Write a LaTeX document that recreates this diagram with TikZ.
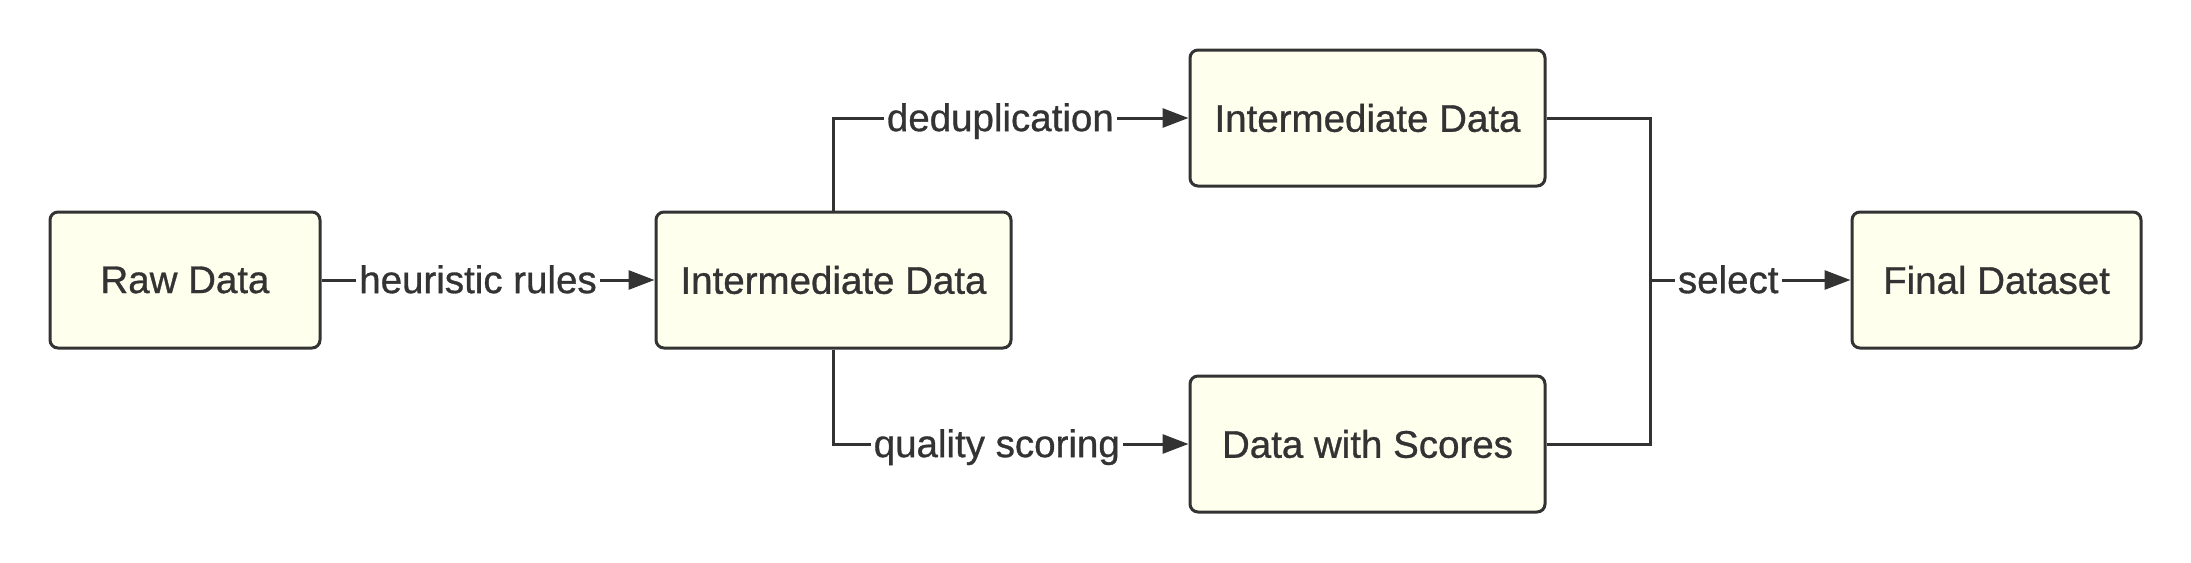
\documentclass[tikz,border=0pt]{standalone}
\usepackage{fontspec}
\setmainfont{Liberation Sans}
\newfontfamily\diagfont{Liberation Sans}[FakeBold=0.8]
\usetikzlibrary{arrows.meta}
\definecolor{boxfill}{HTML}{FFFFEE}
\definecolor{ink}{HTML}{333333}
\tikzset{
  databox/.style={draw=ink, fill=boxfill, line width=3pt, rounded corners=8pt,
    minimum height=136pt, inner sep=0pt, text=ink, font=\diagfont\fontsize{38.5}{46}\selectfont},
  flow/.style={draw=ink, line width=3pt, -{Triangle[length=26pt,width=19pt]}},
  link/.style={draw=ink, line width=3pt},
  lbl/.style={fill=white, inner xsep=3pt, inner ysep=2pt, text height=27.7pt, text depth=8.5pt,
    yshift=-3.5pt, text=ink, font=\diagfont\fontsize{38.5}{46}\selectfont}
}
\begin{document}
\begin{tikzpicture}[x=1pt,y=-1pt]
\useasboundingbox (0,0) rectangle (2191,562);
\node[databox, minimum width=270pt] (raw) at (185,280) {Raw Data};
\node[databox, minimum width=355pt] (mid) at (833.5,280) {Intermediate Data};
\node[databox, minimum width=355pt] (top) at (1367.5,118) {Intermediate Data};
\node[databox, minimum width=355pt] (scores) at (1367.5,444) {Data with Scores};
\node[databox, minimum width=289pt] (final) at (1996.5,280) {Final Dataset};
\coordinate (join) at (1650,280);

\draw[flow] (raw) -- node[lbl, pos=0.47] {heuristic rules} (mid);
\draw[flow] (mid.north) |- node[lbl, pos=0.735] {deduplication} (top.west);
\draw[flow] (mid.south) |- node[lbl, pos=0.73] {quality scoring} (scores.west);
\draw[link] (top.east) -| (join);
\draw[link] (scores.east) -| (join);
\draw[flow] (join) -- node[lbl, pos=0.39] {select} (final.west);
\end{tikzpicture}
\end{document}
